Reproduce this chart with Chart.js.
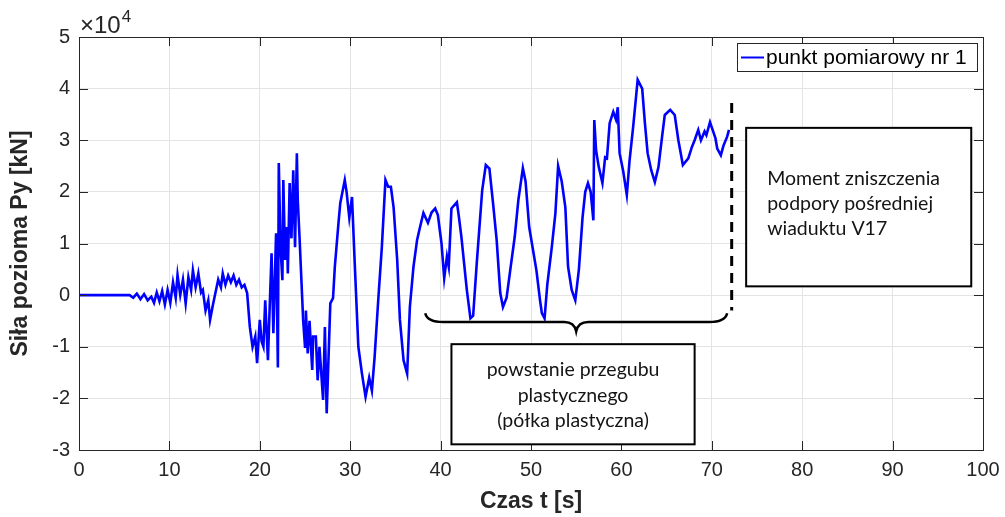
<!DOCTYPE html>
<html>
<head>
<meta charset="utf-8">
<script src="https://cdn.jsdelivr.net/npm/chart.js@4"></script>
<style>
  body { margin: 0; background: #fff; }
</style>
</head>
<body>
<canvas id="chart" width="1005" height="517"></canvas>
<script>
// Czas t [s]
const time = [
  0, 2, 4, 5.6, 6.0, 6.4, 6.8, 7.2, 7.6, 8.0, 8.3, 8.6, 8.9, 9.2, 9.5, 9.8,
  10.1, 10.4, 10.7, 10.9, 11.2, 11.5, 11.8, 12.1, 12.4, 12.6, 12.9, 13.2, 13.5, 13.7,
  14.0, 14.3, 14.5, 14.8, 15.1, 15.4, 15.7, 15.9, 16.2, 16.5, 16.8, 17.1, 17.4, 17.7,
  18.0, 18.3, 18.6, 18.9, 19.2, 19.5, 19.7, 20.0, 20.2, 20.4, 20.6, 20.9, 21.1, 21.3,
  21.5, 21.8, 22.0, 22.1, 22.3, 22.5, 22.6, 22.8, 23.0, 23.1, 23.3, 23.5, 23.7, 23.9,
  24.1, 24.2, 24.4, 24.7, 24.8, 25.0, 25.1, 25.3, 25.5, 25.8, 25.9, 26.2, 26.4, 26.6,
  27.0, 27.2, 27.4, 27.8, 28.1, 28.3, 28.7, 28.9, 29.4, 29.6, 29.9, 30.2, 30.5, 30.9,
  31.3, 31.7, 32.1, 32.4, 32.7, 33.1, 33.5, 33.9, 34.2, 34.5, 34.8, 35.2, 35.5, 35.9,
  36.3, 36.6, 37.0, 37.4, 37.7, 38.1, 38.6, 39.0, 39.4, 39.7, 40.1, 40.4, 40.7, 40.9,
  41.2, 41.8, 42.0, 42.3, 42.9, 43.3, 43.6, 44.0, 44.6, 45.0, 45.4, 45.8, 46.2, 46.6,
  46.9, 47.3, 47.7, 48.2, 48.6, 49.1, 49.4, 49.8, 50.2, 50.6, 51.0, 51.2, 51.5, 51.8,
  52.3, 52.7, 53.0, 53.4, 53.8, 54.1, 54.5, 54.9, 55.3, 55.7, 56.0, 56.3, 56.6, 56.9,
  57.0, 57.2, 57.5, 57.9, 58.2, 58.4, 58.7, 59.1, 59.4, 59.6, 59.8, 60.2, 60.6, 60.9,
  61.3, 61.8, 62.3, 62.6, 62.9, 63.3, 63.7, 64.1, 64.5, 64.8, 65.4, 65.9, 66.3, 66.8,
  67.4, 67.8, 68.1, 68.5, 68.8, 69.2, 69.4, 69.8, 70.4, 70.6, 71.0, 71.3, 71.7, 71.9
];

// Siła pozioma Py [kN]
const force = [
  0, 0, 0, 0, -500, 300, -800, 200, -1000, -300, -1500, 500, -1200, 800, -1800, 1000,
  -1500, 2500, -500, 3900, 0, 3000, -1600, 3500, 1000, 4800, 1500, 4200, 500, 1000,
  -3000, -1000, -4800, -2000, 500, 3000, 1500, 4200, 2000, 3800, 2500, 3800, 2000, 3000,
  1500, 2000, 400, -6200, -10000, -8000, -13200, -4800, -9000, -10000, -1000, -12600, -2000, 8100,
  -7400, 12000, -14000, 25600, 9000, 2900, 22300, 6800, 13200, 4200, 21700, 11000, 24200, 9300,
  27500, 18400, 11000, -1000, -5000, -10000, -3000, -11300, -5000, -14500, -8000, -8000, -16500, -10000,
  -20300, -6200, -22900, -1600, -600, 5500, 13900, 17800, 22300, 20000, 15000, 19000, 6200, -10000,
  -15200, -19700, -16000, -18500, -12000, -1000, 9300, 22300, 21000, 21000, 17000, 6800, -4800, -12600,
  -15200, -2300, 5500, 10700, 13000, 15900, 14000, 16000, 16800, 15500, 10000, 3300, 7500, 5500,
  16800, 18000, 15500, 11300, 1000, -4500, -4000, 6200, 20300, 25200, 24500, 17800, 10700, 400,
  -2300, -500, 4800, 11300, 18400, 24600, 22000, 13200, 9000, 4800, -1000, -3500, -4500, 2000,
  9300, 15900, 25000, 22000, 17000, 5500, 1000, -1000, 5000, 15000, 20000, 21700, 20000, 14500,
  33900, 28000, 24800, 21700, 26700, 26500, 33300, 35500, 34000, 36400, 27500, 24000, 19400, 26000,
  32600, 41700, 40000, 33300, 27500, 24200, 21900, 24800, 30700, 34900, 35900, 34900, 30000, 25200,
  26500, 28700, 30000, 32000, 30000, 31700, 31000, 33500, 30400, 28400, 27100, 29000, 30700, 32000
];

const xTicks = [0, 10, 20, 30, 40, 50, 60, 70, 80, 90, 100];
const yTicks = [-3, -2, -1, 0, 1, 2, 3, 4, 5]; // x 10^4

const seriesName = 'punkt pomiarowy nr 1';
const failureNote = ['Moment zniszczenia', 'podpory pośredniej', 'wiaduktu V17'];
const hingeNote = ['powstanie przegubu', 'plastycznego', '(półka plastyczna)'];

// MATLAB-like frame: full box with inward ticks, exponent label, legend, annotations
const matlabFrame = {
  id: 'matlabFrame',
  afterDraw(chart) {
    const ctx = chart.ctx;
    const a = chart.chartArea;
    const xs = chart.scales.x, ys = chart.scales.y;
    const X = v => xs.getPixelForValue(v);
    const Y = v => ys.getPixelForValue(v);
    const tl = 9;

    ctx.save();
    ctx.strokeStyle = '#262626';
    ctx.lineWidth = 1;
    ctx.beginPath();
    xTicks.forEach(v => {
      const px = Math.round(X(v)) + 0.5;
      ctx.moveTo(px, a.bottom); ctx.lineTo(px, a.bottom - tl);
      ctx.moveTo(px, a.top); ctx.lineTo(px, a.top + tl);
    });
    yTicks.forEach(v => {
      const py = Math.round(Y(v * 1e4)) + 0.5;
      ctx.moveTo(a.left, py); ctx.lineTo(a.left + tl, py);
      ctx.moveTo(a.right, py); ctx.lineTo(a.right - tl, py);
    });
    ctx.stroke();
    ctx.strokeRect(Math.round(a.left) + 0.5, Math.round(a.top) + 0.5,
      Math.round(a.right - a.left), Math.round(a.bottom - a.top));

    // x10^4
    ctx.fillStyle = '#262626';
    ctx.textBaseline = 'alphabetic';
    ctx.textAlign = 'left';
    ctx.font = '24px "Liberation Sans", Arial, sans-serif';
    ctx.fillText('\u00d710', a.left + 1, a.top - 4);
    const w = ctx.measureText('\u00d710').width;
    ctx.font = '17px "Liberation Sans", Arial, sans-serif';
    ctx.fillText('4', a.left + 2 + w, a.top - 15);

    // legend
    const lx = 737, ly = 43, lw = 240, lh = 28;
    ctx.fillStyle = '#fff';
    ctx.fillRect(lx, ly, lw, lh);
    ctx.strokeStyle = '#262626';
    ctx.strokeRect(lx + 0.5, ly + 0.5, lw, lh);
    ctx.strokeStyle = '#0000ff';
    ctx.lineWidth = 2;
    ctx.beginPath();
    ctx.moveTo(lx + 4, ly + 14.5); ctx.lineTo(lx + 27, ly + 14.5);
    ctx.stroke();
    ctx.fillStyle = '#000';
    ctx.textBaseline = 'middle';
    ctx.font = '21px "Liberation Sans", Arial, sans-serif';
    ctx.fillText(seriesName, lx + 29, ly + 15);

    // dashed line at failure moment
    ctx.strokeStyle = '#000';
    ctx.lineWidth = 3;
    ctx.setLineDash([10, 7]);
    ctx.beginPath();
    ctx.moveTo(X(72.2), Y(37200)); ctx.lineTo(X(72.2), Y(-3000));
    ctx.stroke();
    ctx.setLineDash([]);

    // brace
    const bx0 = X(38.3), bx1 = X(71.7), bm = X(55.0);
    const by0 = Y(-3500), by1 = Y(-5200), byt = Y(-7000);
    ctx.lineWidth = 2.5;
    ctx.beginPath();
    ctx.moveTo(bx0, by0);
    ctx.quadraticCurveTo(bx0 + 2, by1, bx0 + 18, by1);
    ctx.lineTo(bm - 12, by1);
    ctx.quadraticCurveTo(bm - 2, by1, bm, byt);
    ctx.quadraticCurveTo(bm + 2, by1, bm + 12, by1);
    ctx.lineTo(bx1 - 18, by1);
    ctx.quadraticCurveTo(bx1 - 2, by1, bx1, by0);
    ctx.stroke();

    // note boxes
    ctx.lineWidth = 2;
    ctx.fillStyle = '#fff';
    const b1 = [X(73.8), Y(32400), X(98.7), Y(1700)];
    ctx.fillRect(b1[0], b1[1], b1[2] - b1[0], b1[3] - b1[1]);
    ctx.strokeRect(b1[0], b1[1], b1[2] - b1[0], b1[3] - b1[1]);
    const b2 = [X(41.2), Y(-9500), X(68.1), Y(-28900)];
    ctx.fillRect(b2[0], b2[1], b2[2] - b2[0], b2[3] - b2[1]);
    ctx.strokeRect(b2[0], b2[1], b2[2] - b2[0], b2[3] - b2[1]);

    ctx.fillStyle = '#141414';
    ctx.font = '19.5px Lato, "Open Sans", sans-serif';
    ctx.textBaseline = 'alphabetic';
    ctx.textAlign = 'left';
    failureNote.forEach((s, i) => ctx.fillText(s, b1[0] + 21, b1[1] + 57 + i * 25));
    ctx.textAlign = 'center';
    const cx = (b2[0] + b2[2]) / 2;
    hingeNote.forEach((s, i) => ctx.fillText(s, cx, b2[1] + 32 + i * 25.5));
    ctx.restore();
  }
};

new Chart(document.getElementById('chart'), {
  type: 'line',
  data: {
    datasets: [{
      label: seriesName,
      data: time.map((t, i) => ({ x: t, y: force[i] })),
      borderColor: '#0000ff',
      borderWidth: 2.6,
      pointRadius: 0,
      tension: 0,
      fill: false
    }]
  },
  options: {
    responsive: false,
    animation: false,
    layout: { padding: { top: 37, right: 22, left: 0, bottom: 0 } },
    plugins: { legend: { display: false }, tooltip: { enabled: false } },
    scales: {
      x: {
        type: 'linear', min: 0, max: 100,
        afterBuildTicks: s => { s.ticks = xTicks.map(v => ({ value: v })); },
        afterFit: s => { s.height = 67; s.paddingLeft = 0; s.paddingRight = 0; },
        grid: { color: '#e4e4e4', drawTicks: false },
        border: { display: false },
        ticks: { padding: 8, color: '#262626', font: { family: '"Liberation Sans", Arial, sans-serif', size: 20 } },
        title: {
          display: true, text: 'Czas t [s]', color: '#262626',
          padding: { top: 0, bottom: 2 },
          font: { family: '"Liberation Sans", Arial, sans-serif', size: 23, weight: 'bold' }
        }
      },
      y: {
        type: 'linear', min: -30000, max: 50000,
        afterBuildTicks: s => { s.ticks = yTicks.map(v => ({ value: v * 1e4 })); },
        afterFit: s => { s.width = 79; s.paddingTop = 0; s.paddingBottom = 0; },
        grid: { color: '#e4e4e4', drawTicks: false },
        border: { display: false },
        ticks: {
          padding: 9, color: '#262626',
          font: { family: '"Liberation Sans", Arial, sans-serif', size: 20 },
          callback: v => String(v / 1e4)
        },
        title: {
          display: true, text: 'Siła pozioma Py [kN]', color: '#262626',
          padding: { top: 7, bottom: 0 },
          font: { family: '"Liberation Sans", Arial, sans-serif', size: 23, weight: 'bold' }
        }
      }
    }
  },
  plugins: [matlabFrame]
});
</script>
</body>
</html>
